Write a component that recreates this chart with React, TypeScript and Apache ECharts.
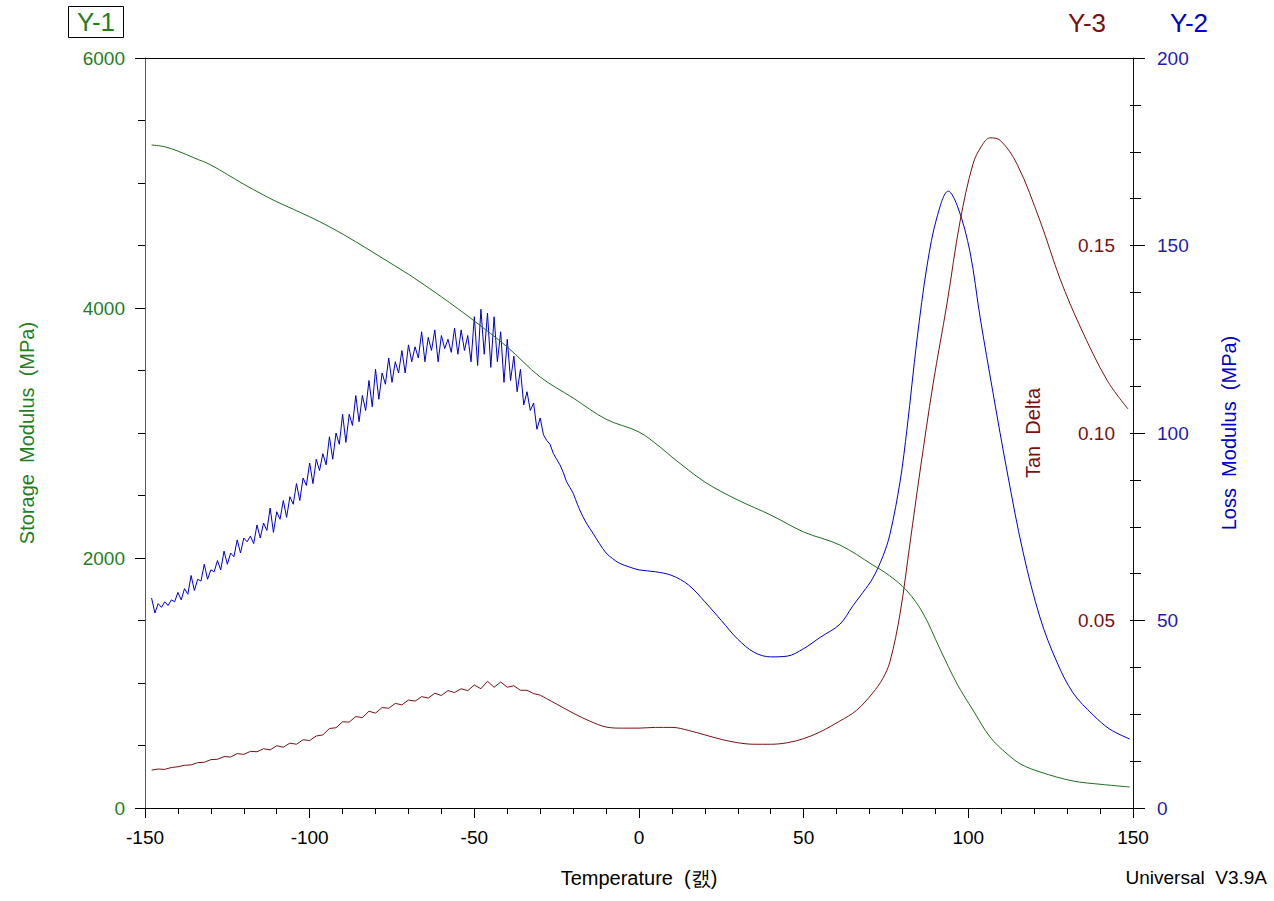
import React, { useEffect, useRef } from "react";
import * as echarts from "echarts";

// ---------- data ----------
const xTicks = [-150, -100, -50, 0, 50, 100, 150];

// Storage modulus (MPa) : [temperature, value]
const storageT = [-148, -144, -140, -135, -130, -120, -114, -110, -100, -94, -86, -78.6, -70, -67.4, -60, -50.4, -40, -30, -20, -10, 0, 6.4, 10, 20, 30, 40, 50, 61, 71, 76, 81.4, 86.2, 91.4, 96.6, 101.4, 106.6, 111.8, 116, 121.8, 131.8, 140, 149];
const storageV = [5304, 5290, 5255, 5200, 5144, 4990, 4904, 4850, 4730, 4650, 4530, 4410, 4270, 4224, 4090, 3904, 3688, 3448, 3280, 3110, 3008, 2888, 2808, 2608, 2464, 2344, 2208, 2104, 1944, 1860, 1736, 1560, 1272, 992, 784, 568, 432, 350, 288, 216, 190, 168];

// Loss modulus (MPa), noisy part at 1 °C steps from -148 to -20
const lossNoisyStart = -148;
const lossNoisyV = [
  56, 52, 54.5, 53.5, 55, 54, 55.5, 55, 57.5, 55.5, 58.5, 57, 62, 58, 61, 60.5, 65, 61, 63.5, 63,
  66, 63.5, 68.5, 65, 68, 67, 71.5, 68, 72, 71, 72.5, 70.5, 75.5, 72, 76, 74, 80, 73.5, 79, 77,
  82, 77.5, 83, 81, 86.5, 82, 88, 86, 92, 86.5, 93, 90, 94.5, 91.5, 99, 93, 100, 97, 105, 97.5,
  105, 102, 110, 103, 110, 106, 114, 107, 117, 109, 116, 113, 120, 113.5, 119, 116, 122, 116, 123.5, 119,
  123, 120, 127, 119, 125.5, 122, 127.5, 119, 126, 122.5, 125, 121.5, 128, 121, 127.5, 122, 126, 119, 131, 118,
  133, 121, 132, 117.5, 131, 119, 127, 113.5, 125, 114, 120.5, 111, 117, 107.5, 111, 106, 108, 101, 104, 99.5,
  98, 97, 94.5, 93, 91.5, 89.5, 87, 85.5, 84
];
const lossSmoothT = [-20, -18, -16, -14, -12, -10, -8, -6, -3, 0, 5, 10, 15, 20, 25, 30, 35, 40, 45, 50, 55, 61, 65, 68, 71, 74, 76.2, 79.3, 81.4, 84.4, 87.5, 90.5, 93.9, 96.9, 100.5, 103.6, 107.5, 111.8, 116.6, 121.8, 126.9, 131.8, 137.9, 143, 149];
const lossSmoothV = [84, 79.5, 76, 73.3, 70.5, 68, 66.5, 65.3, 64.3, 63.5, 63, 62, 59.5, 55, 50, 45, 41.5, 40.3, 40.5, 42.5, 45.5, 49, 54, 57.5, 61.3, 67, 73, 87.2, 101.3, 124.8, 144.8, 157.6, 164.5, 160, 148.3, 130.7, 110.7, 89.6, 68.3, 50.7, 38.9, 30.7, 24.8, 21, 18.4];

// Tan delta
const tanT = [-148, -146, -144, -142, -140, -138, -136, -134, -132, -130, -128, -126, -124, -122, -120, -118, -116, -114, -112, -110, -108, -106, -104, -102, -100, -98, -96, -94, -92, -90, -88, -86, -84, -82, -80, -78, -76, -74, -72, -70, -68, -66, -64, -62, -60, -58, -56, -54, -52, -50, -48, -46, -44, -42, -40, -38, -36, -34, -32, -30];
const tanV = [0.0101, 0.0104, 0.0103, 0.0108, 0.011, 0.0114, 0.0115, 0.0121, 0.0122, 0.0129, 0.013, 0.0137, 0.0136, 0.0145, 0.0143, 0.0151, 0.015, 0.0158, 0.0155, 0.0166, 0.0162, 0.0173, 0.017, 0.0182, 0.018, 0.0192, 0.0195, 0.0212, 0.0214, 0.023, 0.0229, 0.0244, 0.0241, 0.0258, 0.0253, 0.0268, 0.0266, 0.0279, 0.0275, 0.0288, 0.0285, 0.0297, 0.0293, 0.0306, 0.03, 0.0313, 0.0308, 0.0318, 0.0313, 0.0328, 0.0318, 0.0338, 0.0322, 0.0336, 0.0322, 0.0326, 0.0314, 0.0314, 0.0305, 0.0301];
const tanSmoothT = [-30, -25, -20, -15, -10, -5, 0, 5, 10, 15, 20, 25, 30, 35, 40, 45, 50, 55, 61, 66, 71, 74, 76.2, 79.3, 82.3, 85.3, 89.3, 93.5, 97.5, 101.4, 104, 106.6, 109.6, 114.8, 121.8, 127.9, 134, 142.1, 148.5];
const tanSmoothV = [0.0301, 0.0277, 0.0253, 0.0232, 0.0216, 0.0213, 0.0213, 0.0215, 0.0215, 0.0207, 0.0195, 0.0183, 0.0174, 0.017, 0.017, 0.0174, 0.0185, 0.0203, 0.0232, 0.026, 0.0307, 0.0345, 0.039, 0.052, 0.0707, 0.0896, 0.1131, 0.1344, 0.1565, 0.1717, 0.1765, 0.1787, 0.1781, 0.1717, 0.1565, 0.141, 0.1283, 0.1141, 0.1064];

const FONT = "'Liberation Sans', Arial, sans-serif";
const GREEN = "#1f7f1f";
const GREEN_LINE = "#1b6e1b";
const BLUE = "#1c1cb4";
const BLUE_LINE = "#0000c8";
const NAVY = "#000080";
const MAROON = "#7a1010";

const zip = (a: number[], b: number[]) => a.map((t, i) => [t, b[i]]);

export default function App() {
  const ref = useRef<HTMLDivElement>(null);
  useEffect(() => {
    document.body.style.margin = "0";
    if (!ref.current) return;
    const chart = echarts.init(ref.current, null, { renderer: "svg" });
    const lossNoisy = lossNoisyV.map((v, i) => [lossNoisyStart + i, v]);
    chart.setOption({
      animation: false,
      backgroundColor: "#ffffff",
      textStyle: { fontFamily: FONT },
      grid: { left: 145, right: 141, top: 58, bottom: 93, containLabel: false },
      xAxis: [
        {
          type: "value",
          min: xTicks[0],
          max: xTicks[xTicks.length - 1],
          interval: 50,
          name: "Temperature  (\uCE9C)",
          nameLocation: "middle",
          nameGap: 60,
          nameTextStyle: { color: "#000", fontSize: 20, fontFamily: FONT },
          axisLine: { show: true, onZero: false, lineStyle: { color: "#000", width: 1 } },
          axisTick: { show: true, length: 10, lineStyle: { color: "#000" } },
          minorTick: { show: true, splitNumber: 5, length: 6, lineStyle: { color: "#000" } },
          axisLabel: { color: "#000", fontSize: 19, margin: 20, fontFamily: FONT },
          splitLine: { show: false },
        },
        {
          type: "value",
          position: "top",
          min: -150,
          max: 150,
          axisLine: { show: true, onZero: false, lineStyle: { color: "#000", width: 1 } },
          axisTick: { show: false },
          axisLabel: { show: false },
          splitLine: { show: false },
        },
      ],
      yAxis: [
        {
          type: "value",
          position: "left",
          min: 0,
          max: 6000,
          interval: 2000,
          name: "Storage  Modulus  (MPa)",
          nameLocation: "middle",
          nameRotate: 90,
          nameGap: 108,
          nameTextStyle: { color: GREEN, fontSize: 20, fontFamily: FONT },
          axisLine: { show: true, onZero: false, lineStyle: { color: GREEN, width: 1 } },
          axisTick: { show: true, length: 10, lineStyle: { color: "#000" } },
          minorTick: { show: true, splitNumber: 4, length: 7, lineStyle: { color: "#000" } },
          axisLabel: { color: GREEN, fontSize: 19, margin: 20, fontFamily: FONT, formatter: (v: number) => String(v) },
          splitLine: { show: false },
        },
        {
          type: "value",
          position: "right",
          min: 0,
          max: 200,
          interval: 50,
          name: "Loss  Modulus  (MPa)",
          nameLocation: "middle",
          nameRotate: 90,
          nameGap: 86,
          nameTextStyle: { color: BLUE_LINE, fontSize: 20, fontFamily: FONT },
          axisLine: { show: true, onZero: false, lineStyle: { color: NAVY, width: 1 } },
          axisTick: { show: true, length: 12, lineStyle: { color: "#000" } },
          minorTick: { show: true, splitNumber: 4, length: 8, lineStyle: { color: "#000" } },
          axisLabel: { color: BLUE, fontSize: 19, margin: 24, fontFamily: FONT },
          splitLine: { show: false },
        },
        {
          type: "value",
          position: "right",
          min: 0,
          max: 0.2,
          interval: 0.05,
          axisLine: { show: false, onZero: false },
          axisTick: { show: true, inside: true, length: 3, lineStyle: { color: "#000" } },
          minorTick: { show: true, splitNumber: 4, length: 3, lineStyle: { color: "#000" } },
          axisLabel: {
            inside: true,
            color: MAROON,
            fontSize: 19,
            margin: 18,
            fontFamily: FONT,
            formatter: (v: number) => (v > 0.001 && v < 0.199 ? v.toFixed(2) : ""),
          },
          splitLine: { show: false },
        },
      ],
      graphic: [
        {
          type: "rect",
          shape: { x: 68.5, y: 6.5, width: 55, height: 31 },
          style: { fill: "none", stroke: "#000", lineWidth: 1 },
        },
        {
          type: "text",
          x: 96,
          y: 22,
          style: { text: "Y-1", fill: GREEN, font: `26px ${FONT}`, align: "center", verticalAlign: "middle" },
        },
        {
          type: "text",
          x: 1087,
          y: 23,
          style: { text: "Y-3", fill: MAROON, font: `26px ${FONT}`, align: "center", verticalAlign: "middle" },
        },
        {
          type: "text",
          x: 1189,
          y: 23,
          style: { text: "Y-2", fill: BLUE_LINE, font: `26px ${FONT}`, align: "center", verticalAlign: "middle" },
        },
        {
          type: "text",
          x: 1033,
          y: 433,
          rotation: Math.PI / 2,
          style: { text: "Tan  Delta", fill: MAROON, font: `20px ${FONT}`, align: "center", verticalAlign: "middle" },
        },
        {
          type: "text",
          x: 1267,
          y: 877,
          style: { text: "Universal  V3.9A", fill: "#000", font: `19px ${FONT}`, align: "right", verticalAlign: "middle" },
        },
      ],
      series: [
        {
          type: "line",
          name: "Loss Modulus",
          xAxisIndex: 0,
          yAxisIndex: 1,
          data: lossNoisy,
          showSymbol: false,
          lineStyle: { color: BLUE_LINE, width: 1 },
        },
        {
          type: "line",
          name: "Loss Modulus ",
          xAxisIndex: 0,
          yAxisIndex: 1,
          data: zip(lossSmoothT, lossSmoothV),
          showSymbol: false,
          smooth: 0.35,
          lineStyle: { color: BLUE_LINE, width: 1 },
        },
        {
          type: "line",
          name: "Tan Delta",
          xAxisIndex: 0,
          yAxisIndex: 2,
          data: zip(tanT, tanV),
          showSymbol: false,
          lineStyle: { color: MAROON, width: 1 },
        },
        {
          type: "line",
          name: "Tan Delta ",
          xAxisIndex: 0,
          yAxisIndex: 2,
          data: zip(tanSmoothT, tanSmoothV),
          showSymbol: false,
          smooth: 0.35,
          lineStyle: { color: MAROON, width: 1 },
        },
        {
          type: "line",
          name: "Storage Modulus",
          xAxisIndex: 0,
          yAxisIndex: 0,
          data: zip(storageT, storageV),
          showSymbol: false,
          smooth: 0.35,
          lineStyle: { color: GREEN_LINE, width: 1 },
        },
      ],
    });
    return () => chart.dispose();
  }, []);
  return <div ref={ref} style={{ width: 1274, height: 901 }} />;
}
